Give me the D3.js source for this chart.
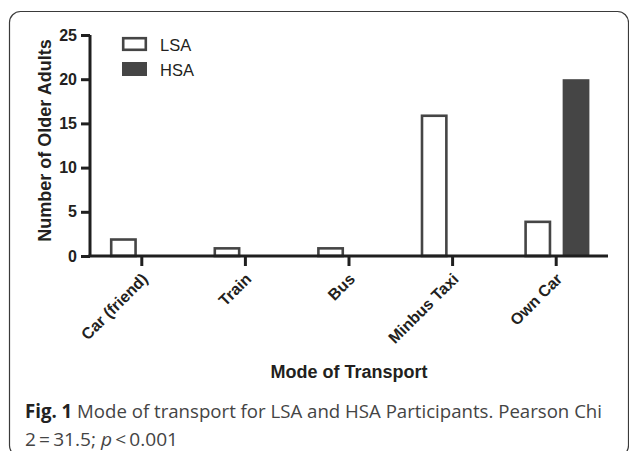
<!DOCTYPE html>
<html>
<head>
<meta charset="utf-8">
<script src="https://cdn.jsdelivr.net/npm/d3@7"></script>
<style>
html,body{margin:0;padding:0;background:#fff;}
svg{display:block;}
</style>
</head>
<body>
<script>
const categories = ["Car (friend)", "Train", "Bus", "Minbus Taxi", "Own Car"];
const seriesNames = ["LSA", "HSA"];
const lsaValues = [2, 1, 1, 16, 4];
const hsaValues = [0, 0, 0, 0, 20];
const yTicks = [0, 5, 10, 15, 20, 25];
const yTitle = "Number of Older Adults";
const xTitle = "Mode of Transport";
const captionBold = "Fig. 1";
const captionLine1 = " Mode of transport for LSA and HSA Participants. Pearson Chi";
const captionLine2a = "2\u2009=\u200931.5; ";
const captionLine2b = "p";
const captionLine2c = "\u2009<\u20090.001";

(function(){
const W = 629, H = 451;
const svg = d3.select("body").append("svg").attr("width", W).attr("height", H);

// frame
svg.append("rect").attr("x", 9.5).attr("y", 11.5).attr("width", 619).attr("height", 445)
  .attr("rx", 11).attr("fill", "none").attr("stroke", "#3a3a3a").attr("stroke-width", 1.2);

const pL = 90, pR = 608, pT = 35, pB = 256;
const x = d3.scaleBand().domain(categories).range([pL, pR]).paddingInner(0).paddingOuter(0);
const xi = d3.scaleBand().domain(seriesNames).range([20, 85]).paddingInner(0.3);
const y = d3.scaleLinear().domain([0, 25]).range([pB, pT]);

const data = categories.map((c, i) => ({cat: c, vals: [
  {s: "LSA", v: lsaValues[i]}, {s: "HSA", v: hsaValues[i]}]}));

const g = svg.append("g").selectAll("g").data(data).join("g")
  .attr("transform", d => `translate(${x(d.cat)},0)`);
g.selectAll("rect").data(d => d.vals.filter(e => e.v > 0)).join("rect")
  .attr("x", d => xi(d.s) + (d.s === "LSA" ? 1.2 : 0))
  .attr("width", d => xi.bandwidth() - (d.s === "LSA" ? 2.4 : 0))
  .attr("y", d => y(d.v) + (d.s === "LSA" ? 1.2 : 0))
  .attr("height", d => pB - y(d.v) - (d.s === "LSA" ? 1.2 : 0))
  .attr("fill", d => d.s === "LSA" ? "#fff" : "#454545")
  .attr("stroke", d => d.s === "LSA" ? "#454545" : "none")
  .attr("stroke-width", 2.6);

const axisColor = "#1f1f1f";
// y axis
const ya = svg.append("g").attr("transform", `translate(${pL},0)`)
  .call(d3.axisLeft(y).tickValues(yTicks).tickSize(9).tickPadding(4).tickSizeOuter(0));
ya.select(".domain").attr("stroke", axisColor).attr("stroke-width", 3)
  .attr("d", `M0,${pB}V${pT}`);
ya.selectAll(".tick line").attr("stroke", axisColor).attr("stroke-width", 3);
ya.selectAll(".tick text").attr("font-family", "Liberation Sans, Arial, sans-serif")
  .attr("font-weight", "bold").attr("font-size", 16).attr("fill", "#231f20");

// x axis
const xa = svg.append("g").attr("transform", `translate(0,${pB})`)
  .call(d3.axisBottom(x).tickSize(10).tickSizeOuter(0));
xa.select(".domain").attr("stroke", axisColor).attr("stroke-width", 3)
  .attr("d", `M${pL - 1.5},0H${pR}`);
xa.selectAll(".tick line").attr("stroke", axisColor).attr("stroke-width", 3);
xa.selectAll(".tick text")
  .attr("font-family", "Liberation Sans, Arial, sans-serif").attr("font-weight", "bold")
  .attr("font-size", 16).attr("fill", "#231f20")
  .attr("text-anchor", "end")
  .attr("transform", "translate(7,24) rotate(-45)")
  .attr("y", 0).attr("dy", 0);

// axis titles
svg.append("text").attr("transform", `translate(51,${(pT + pB) / 2 - 5}) rotate(-90)`)
  .attr("text-anchor", "middle").attr("font-family", "Liberation Sans, Arial, sans-serif")
  .attr("font-weight", "bold").attr("font-size", 18).attr("fill", "#231f20").text(yTitle);
svg.append("text").attr("x", (pL + pR) / 2).attr("y", 378)
  .attr("text-anchor", "middle").attr("font-family", "Liberation Sans, Arial, sans-serif")
  .attr("font-weight", "bold").attr("font-size", 18).attr("fill", "#231f20").text(xTitle);

// legend
const leg = svg.append("g");
seriesNames.forEach((s, i) => {
  const ly = 37 + i * 25;
  leg.append("rect").attr("x", s === "LSA" ? 123.2 : 122).attr("y", ly + (s === "LSA" ? 1.2 : 0))
    .attr("width", s === "LSA" ? 22.6 : 25).attr("height", s === "LSA" ? 11.6 : 14)
    .attr("fill", s === "LSA" ? "#fff" : "#454545")
    .attr("stroke", s === "LSA" ? "#454545" : "none").attr("stroke-width", 2.6);
  leg.append("text").attr("x", 160).attr("y", ly + 13.5)
    .attr("font-family", "Liberation Sans, Arial, sans-serif").attr("font-size", 16.5)
    .attr("fill", "#231f20").text(s);
});

// caption
const cap = svg.append("text").attr("x", 25).attr("y", 418)
  .attr("font-family", "Open Sans, sans-serif").attr("font-size", 19).attr("fill", "#444")
  .attr("textLength", 577).attr("lengthAdjust", "spacingAndGlyphs");
cap.append("tspan").attr("font-weight", "bold").attr("fill", "#222").text(captionBold);
cap.append("tspan").text(captionLine1);
const cap2 = svg.append("text").attr("x", 25).attr("y", 446)
  .attr("font-family", "Open Sans, sans-serif").attr("font-size", 19).attr("fill", "#444")
  .attr("textLength", 153).attr("lengthAdjust", "spacingAndGlyphs");
cap2.append("tspan").text(captionLine2a);
cap2.append("tspan").attr("font-style", "italic").text(captionLine2b);
cap2.append("tspan").text(captionLine2c);
})();
</script>
</body>
</html>
